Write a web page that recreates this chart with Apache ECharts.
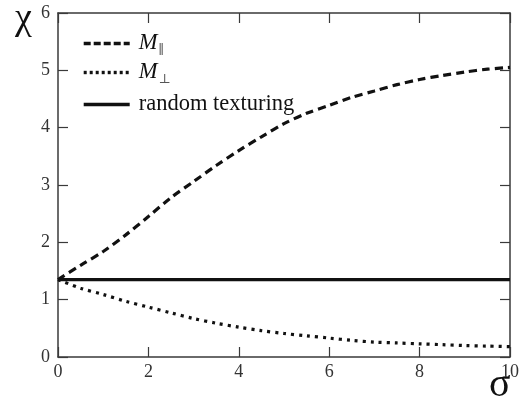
<!DOCTYPE html>
<html>
<head>
<meta charset="utf-8">
<script src="https://cdn.jsdelivr.net/npm/echarts@6/dist/echarts.min.js"></script>
<style>
  html, body { margin: 0; padding: 0; background: #fff; }
  #chart { width: 530px; height: 400px; }
</style>
</head>
<body>
<div id="chart"></div>
<script>
// sigma grid shared by all curves
const sigma = [0, 0.5, 1, 1.5, 2, 2.5, 3, 3.5, 4, 4.5, 5, 5.5, 6, 6.5, 7, 7.5, 8, 8.5, 9, 9.5, 10];
// susceptibility for field parallel to the texture axis
const chiParallel = [1.35, 1.6, 1.84, 2.13, 2.45, 2.78, 3.06, 3.34, 3.6, 3.84, 4.07, 4.25, 4.39, 4.53, 4.64, 4.75, 4.84, 4.91, 4.97, 5.02, 5.05];
// susceptibility for field perpendicular to the texture axis
const chiPerp = [1.35, 1.2, 1.09, 0.97, 0.87, 0.77, 0.67, 0.59, 0.52, 0.46, 0.41, 0.37, 0.33, 0.29, 0.26, 0.245, 0.23, 0.215, 0.2, 0.19, 0.18];
// isotropic reference level
const randomSigma = [0, 10];
const randomChi = [1.35, 1.35];

const xTicks = [0, 2, 4, 6, 8, 10];
const yTicks = [0, 1, 2, 3, 4, 5, 6];

const seriesNames = ['M∥', 'M⊥', 'random texturing'];

const pair = (xs, ys) => xs.map((x, i) => [x, ys[i]]);

const serif = '"Liberation Serif", "DejaVu Serif", serif';
const ink = '#111';
const axisInk = '#3a3a3a';

const frameAxis = (extra) => Object.assign({
  type: 'value',
  axisLine: { show: true, onZero: false, lineStyle: { color: axisInk, width: 1.5 } },
  axisTick: { show: true, inside: true, length: 10, lineStyle: { color: axisInk, width: 1.2 } },
  splitLine: { show: false }
}, extra);

const legendRich = {
  m: { fontFamily: serif, fontStyle: 'italic', fontSize: 22.5, color: ink },
  s: { fontFamily: serif, fontSize: 13, color: '#555', verticalAlign: 'bottom', padding: [14, 0, 0, 1] },
  t: { fontFamily: serif, fontSize: 22.5, color: ink }
};
const legendLabel = (name) => {
  if (name === seriesNames[0]) return '{m|M}{s|∥}';
  if (name === seriesNames[1]) return '{m|M}{s|⊥}';
  return '{t|' + name + '}';
};
const legendAt = (name, top, dash) => ({
  data: [name],
  orient: 'vertical',
  left: 77,
  top: top,
  itemWidth: 46,
  itemHeight: 14,
  selectedMode: false,
  itemStyle: { opacity: 0 },
  lineStyle: { width: 3.4, type: dash, color: ink },
  formatter: legendLabel,
  textStyle: { rich: legendRich, padding: [0, 0, 0, 4] }
});

const chart = echarts.init(document.getElementById('chart'), null, { renderer: 'canvas' });
chart.setOption({
  animation: false,
  backgroundColor: '#fff',
  grid: { left: 58, right: 20, top: 13, bottom: 43 },
  legend: [
    legendAt(seriesNames[0], 27, [7, 3]),
    legendAt(seriesNames[1], 56, [3, 3]),
    legendAt(seriesNames[2], 88, 'solid')
  ],
  xAxis: [
    frameAxis({
      position: 'bottom', min: xTicks[0], max: xTicks[xTicks.length - 1], interval: 2,
      axisLabel: { fontFamily: serif, fontSize: 18, color: '#333', margin: 6 }
    }),
    frameAxis({
      position: 'top', min: xTicks[0], max: xTicks[xTicks.length - 1], interval: 2,
      axisLabel: { show: false }
    })
  ],
  yAxis: [
    frameAxis({
      position: 'left', min: yTicks[0], max: yTicks[yTicks.length - 1], interval: 1,
      axisLabel: { fontFamily: serif, fontSize: 18, color: '#333', margin: 8 }
    }),
    frameAxis({
      position: 'right', min: yTicks[0], max: yTicks[yTicks.length - 1], interval: 1,
      axisLabel: { show: false }
    })
  ],
  graphic: [
    { type: 'text', left: 15, top: 0, style: { text: 'χ', font: '38px ' + serif, fill: ink } },
    { type: 'text', left: 489, top: 365, style: { text: 'σ', font: '40px ' + serif, fill: ink } }
  ],
  series: [
    {
      name: seriesNames[0], type: 'line', data: pair(sigma, chiParallel),
      smooth: 0.3, showSymbol: false, symbol: 'none',
      lineStyle: { color: ink, width: 3.2, type: [8, 5] }, itemStyle: { color: ink }
    },
    {
      name: seriesNames[1], type: 'line', data: pair(sigma, chiPerp),
      smooth: 0.3, showSymbol: false, symbol: 'none',
      lineStyle: { color: ink, width: 3.2, type: [3, 5] }, itemStyle: { color: ink }
    },
    {
      name: seriesNames[2], type: 'line', data: pair(randomSigma, randomChi),
      showSymbol: false, symbol: 'none',
      lineStyle: { color: ink, width: 3.4, type: 'solid' }, itemStyle: { color: ink }
    }
  ]
});
</script>
</body>
</html>
